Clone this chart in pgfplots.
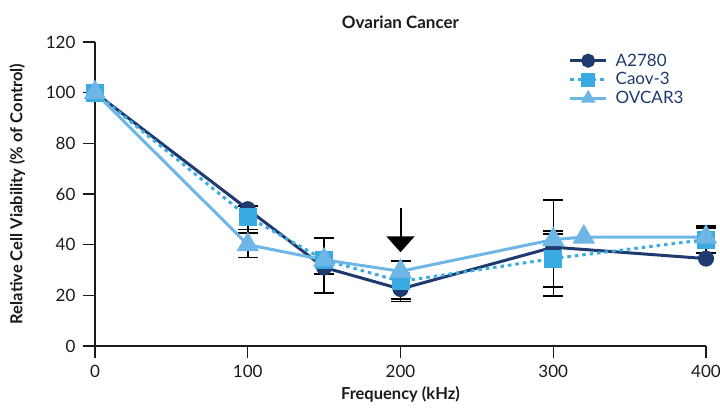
\documentclass[border=0pt]{standalone}
\usepackage{fontspec}
\setmainfont{Lato}
\usepackage{pgfplots}
\pgfplotsset{compat=1.18}
\usepackage{pgfplotstable}
\usetikzlibrary{arrows.meta}
\definecolor{navy}{HTML}{1E3A6E}
\definecolor{midblue}{HTML}{3AABE2}
\definecolor{lightblue}{HTML}{6DB6E6}
\definecolor{txt}{HTML}{1A1A1A}

\pgfplotstableread{
x y
0 100
100 54
150 31
200 22.5
300 39
400 34.5
}\Aseries
\pgfplotstableread{
x y
0 100
100 51
150 34
200 25.5
300 34.5
400 42
}\Cseries
\pgfplotstableread{
x y
0 100
100 40
150 34
200 29.5
300 42
320 43
400 43
}\Oseries
\pgfplotstableread{
x y e
100 54 1.3
150 34 8.6
200 29.5 4.1
300 39 6.4
300 34.5 9.7
300 42 15.6
400 42 5.4
400 43 3.6
}\Eplus
\pgfplotstableread{
x y e
100 54 8
100 51 6.4
100 40 5
150 31 10
150 34 5.6
200 22.5 5
200 25.5 7
300 39 15.7
300 34.5 14.8
400 42 5.3
}\Eminus

\begin{document}
\begin{tikzpicture}
\begin{axis}[
  at={(0,0)}, anchor=origin,
  scale only axis,
  width=611pt, height=304pt,
  xmin=0, xmax=400, ymin=0, ymax=120,
  axis lines=left,
  axis line style={-, line width=1.2pt, color=txt},
  xtick={0,100,200,300,400},
  ytick={0,20,40,60,80,100,120},
  tick align=outside,
  major tick length=12pt,
  tick style={line width=1.2pt, color=txt},
  ticklabel style={font=\fontsize{17}{20}\selectfont, color=txt},
  xticklabel style={yshift=-4pt},
  yticklabel style={xshift=-4pt},
  /pgf/number format/assume math mode=true,
  xlabel={\textbf{Frequency (kHz)}},
  ylabel={\textbf{Relative Cell Viability (\% of Control)}},
  label style={font=\fontsize{16.5}{19}\selectfont, color=txt},
  xlabel style={yshift=-2pt},
  ylabel style={yshift=14pt},
  title={\textbf{Ovarian Cancer}},
  title style={font=\fontsize{17}{20}\selectfont, color=txt, yshift=4pt},
  clip=false,
  legend style={draw=none, fill=none, at={(0.77,0.975)}, anchor=north west,
    font=\fontsize{17}{20}\selectfont, text=navy, row sep=1pt},
  legend cell align=left,
  legend image code/.code={
    \draw[#1, mark=none] (0pt,0pt) -- (36pt,0pt);
    \draw[#1, mark size=5.5pt] plot coordinates {(18pt,0pt)};
    \path (42pt,0pt);
  },
]
% error bars first (behind markers)
\addplot[draw=none, mark=none, forget plot,
  error bars/.cd, y dir=plus, y explicit,
  error bar style={line width=1.5pt, black},
  error mark options={rotate=90, mark size=10pt, line width=1.5pt, black}]
  table[x=x, y=y, y error=e] {\Eplus};
\addplot[draw=none, mark=none, forget plot,
  error bars/.cd, y dir=minus, y explicit,
  error bar style={line width=1.5pt, black},
  error mark options={rotate=90, mark size=10pt, line width=1.5pt, black}]
  table[x=x, y=y, y error=e] {\Eminus};

\addplot[color=navy, line width=3pt, mark=*, mark size=6.5pt,
  mark options={solid, fill=navy, draw=navy}]
  table[x=x, y=y] {\Aseries};
\addlegendentry{A2780}
\addplot[color=midblue, line width=3pt, dash pattern=on 3.5pt off 4pt, mark=square*, mark size=7.5pt,
  mark options={solid, fill=midblue, draw=midblue}]
  table[x=x, y=y] {\Cseries};
\addlegendentry{Caov-3}
\addplot[color=lightblue, line width=3pt, mark=triangle*, mark size=10pt,
  mark options={solid, fill=lightblue, draw=lightblue}]
  table[x=x, y=y] {\Oseries};
\addlegendentry{OVCAR3}

\draw[line width=2pt, black, -{Triangle[width=28pt, length=16pt]}]
  (axis cs:200,54.5) -- (axis cs:200,37);
\end{axis}
\pgfresetboundingbox
\useasboundingbox (-95pt,-68pt) rectangle (625pt,346pt);
\end{tikzpicture}
\end{document}
